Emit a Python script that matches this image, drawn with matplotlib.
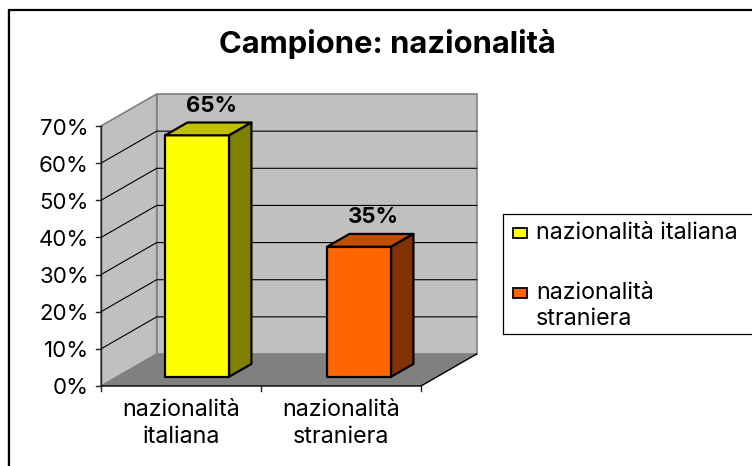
import matplotlib
matplotlib.use("Agg")
import matplotlib.pyplot as plt
from matplotlib.patches import Polygon, Rectangle

title = "Campione: nazionalità"
categories = ["nazionalità\nitaliana", "nazionalità\nstraniera"]
legend_labels = ["nazionalità italiana", "nazionalità\nstraniera"]
values = [65, 35]
y_ticks = [0, 10, 20, 30, 40, 50, 60, 70]
front_colors = ["#FFFF00", "#FF6600"]
top_colors = ["#C0C000", "#C05000"]
side_colors = ["#808000", "#803300"]

W, H = 752, 466
X0, Y0 = 101, 386          # pixel position of the origin
CAT_PX, PCT_PX = 160, 37.14 / 10
DX, DY = 55.7 / CAT_PX, 32 / PCT_PX   # full depth in data units
BAR_W, D0, D1 = 0.40, 0.29, 0.69
BAR_STEP = 162 / 160
YMAX = y_ticks[-1]
NCAT = len(categories)
FS = 16
FS_LABEL = 16.8

plt.rcParams["font.family"] = ["Inter", "Liberation Sans", "DejaVu Sans"]
fig = plt.figure(figsize=(W / 100, H / 100), dpi=100, facecolor="white")
ax = fig.add_axes([0, 0, 1, 1])
ax.set_xlim(-X0 / CAT_PX, (W - X0) / CAT_PX)
ax.set_ylim((Y0 - H) / PCT_PX, Y0 / PCT_PX)
ax.axis("off")


def P(x, y, d=0.0):
    return (x + d * DX, y + d * DY)


def px(x, y):
    """figure-pixel position (y down) to axes fraction"""
    return (x / W, 1 - y / H)


T = ax.transAxes
# outer chart frame: only top and left edges are visible
ax.plot(*zip(px(7.5, 466), px(7.5, 10)), transform=T, color="#999999", lw=1.0, zorder=1, clip_on=False)
ax.plot(*zip(px(9, 466), px(9, 10), px(752, 10)), transform=T, color="black", lw=1.6, zorder=1,
        solid_joinstyle="miter")

# walls and floor
ax.add_patch(Polygon([P(0, 0), P(0, YMAX), P(0, YMAX, 1), P(0, 0, 1)], fc="#C0C0C0", ec="#808080", lw=1.2, zorder=2))
ax.add_patch(Polygon([P(0, 0, 1), P(0, YMAX, 1), P(NCAT, YMAX, 1), P(NCAT, 0, 1)], fc="#C0C0C0", ec="#808080", lw=1.2, zorder=2))
ax.add_patch(Polygon([P(0, 0), P(0, 0, 1), P(NCAT, 0, 1), P(NCAT, 0)], fc="#808080", ec="none", zorder=2))

# gridlines
for v in y_ticks[1:-1]:
    ax.plot(*zip(P(0, v), P(0, v, 1), P(NCAT, v, 1)), color="black", lw=0.8, zorder=3)

# axes
ax.plot(*zip(P(0, 0), P(0, YMAX)), color="#222222", lw=1.0, zorder=4)
ax.plot(*zip(P(0, 0), P(NCAT, 0), P(NCAT, 0, 1)), color="black", lw=1.0, zorder=4)
tick_x = 5 / CAT_PX
tick_y = 5 / PCT_PX
for v in y_ticks:
    ax.plot([-tick_x, 0], [v, v], color="#222222", lw=1.0, zorder=4)
    ax.text(-12 / CAT_PX, v - 2.5 / PCT_PX, f"{v}%", ha="right", va="center", fontsize=FS, color="black")
for i in range(NCAT + 1):
    ax.plot([i, i], [0, -tick_y], color="#222222", lw=1.0, zorder=4)
for i, c in enumerate(categories):
    ax.text(i + 0.5, -13 / PCT_PX, c, ha="center", va="top", fontsize=FS_LABEL, linespacing=1.3, color="black")

# bars
for i, v in enumerate(values):
    left = i * BAR_STEP + 0.5 - BAR_W / 2
    right = left + BAR_W
    kw = dict(ec="black", lw=1.6, joinstyle="round", zorder=5)
    ax.add_patch(Polygon([P(left, 0, D0), P(left, v, D0), P(right, v, D0), P(right, 0, D0)], fc=front_colors[i], **kw))
    ax.add_patch(Polygon([P(left, v, D0), P(left, v, D1), P(right, v, D1), P(right, v, D0)], fc=top_colors[i], **kw))
    ax.add_patch(Polygon([P(right, 0, D0), P(right, v, D0), P(right, v, D1), P(right, 0, D1)], fc=side_colors[i], **kw))
    lx, ly = P(i * BAR_STEP + 0.5, v, D0)
    ax.text(lx + 14 / CAT_PX, ly + 29.5 / PCT_PX, f"{v}%", ha="center", va="center",
            fontsize=FS, fontweight="bold", color="black", zorder=6)

# title
tx, ty = px(387, 44)
ax.text(tx, ty, title, transform=T, ha="center", va="center", fontsize=22.3, fontweight="bold", color="black")

# legend
ax.plot(*zip(px(753, 214), px(503, 214), px(503, 334), px(753, 334)), transform=T, color="black", lw=0.9, zorder=4)
sw_y = [228.5, 287.5]
txt_y = [234, 294]
for i, lab in enumerate(legend_labels):
    sx, sy = px(512.5, sw_y[i] + 10)
    ax.add_patch(Rectangle((sx, sy), 14 / W, 10 / H, transform=T, fc=front_colors[i], ec="black", lw=1.3, zorder=5))
    lx, ly = px(536, txt_y[i] - 12)
    ax.text(lx, ly, lab, transform=T, ha="left", va="top", fontsize=FS_LABEL, linespacing=1.25, color="black")

fig.savefig("out.png", dpi=100, facecolor="white")
